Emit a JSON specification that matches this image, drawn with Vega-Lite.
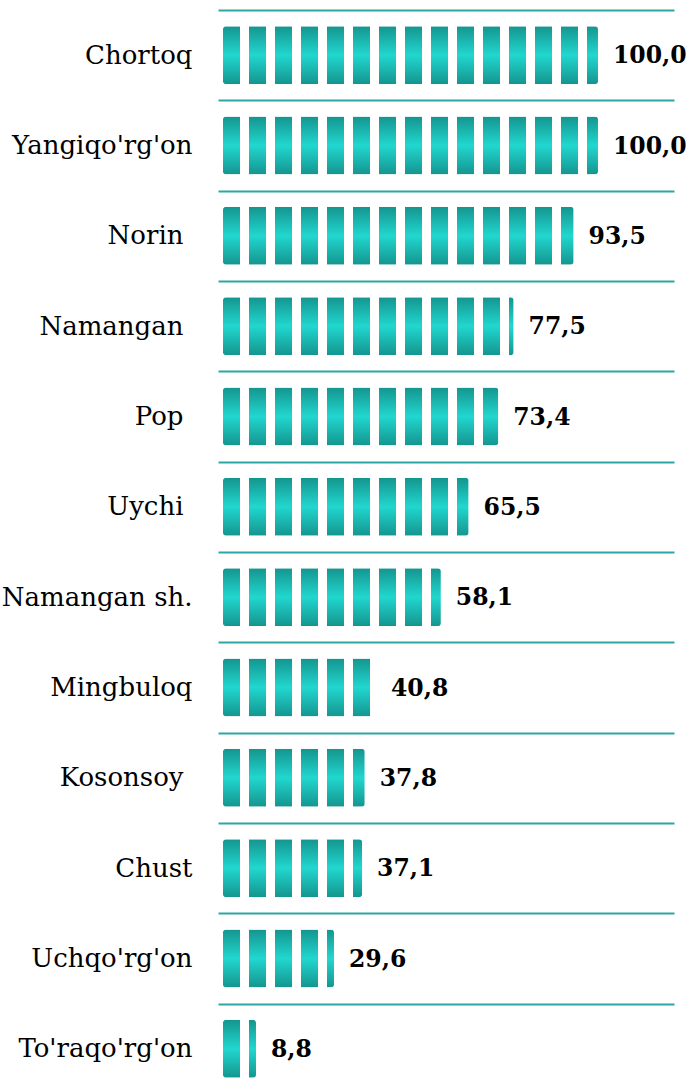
{
  "$schema": "https://vega.github.io/schema/vega-lite/v6.json",
  "autosize": "none",
  "width": 456,
  "height": 1084,
  "padding": {"left": 218, "top": 10, "right": 15, "bottom": 0},
  "background": "white",
  "config": {
    "view": {"stroke": null},
    "locale": {"number": {"decimal": ",", "thousands": ".", "grouping": [3], "currency": ["", ""]}}
  },
  "data": {
    "values": [
      {"district": "Chortoq", "value": 100.0},
      {"district": "Yangiqo'rg'on", "value": 100.0},
      {"district": "Norin", "value": 93.5},
      {"district": "Namangan", "value": 77.5},
      {"district": "Pop", "value": 73.4},
      {"district": "Uychi", "value": 65.5},
      {"district": "Namangan sh.", "value": 58.1},
      {"district": "Mingbuloq", "value": 40.8},
      {"district": "Kosonsoy", "value": 37.8},
      {"district": "Chust", "value": 37.1},
      {"district": "Uchqo'rg'on", "value": 29.6},
      {"district": "To'raqo'rg'on", "value": 8.8}
    ]
  },
  "transform": [{"calculate": "0", "as": "baseline"}],
  "encoding": {
    "y": {
      "field": "district",
      "type": "nominal",
      "sort": null,
      "scale": {"paddingInner": 0, "paddingOuter": 0},
      "axis": {
        "title": null,
        "ticks": false,
        "domain": false,
        "grid": true,
        "tickBand": "extent",
        "gridColor": "#2aa7a2",
        "gridWidth": 2,
        "labelFont": "DejaVu Serif",
        "labelFontSize": 26,
        "labelColor": "#000000",
        "labelPadding": {
          "condition": {"test": "indexof(['Norin','Namangan','Pop','Uychi','Kosonsoy'], datum.value) >= 0", "value": 35},
          "value": 26
        },
        "labelLimit": 0
      }
    }
  },
  "layer": [
    {
      "mark": {
        "type": "bar",
        "size": 58,
        "cornerRadius": 3,
        "color": {
          "gradient": "linear",
          "x1": 0, "y1": 0, "x2": 0, "y2": 1,
          "stops": [
            {"offset": 0, "color": "#14958f"},
            {"offset": 0.5, "color": "#21d7cf"},
            {"offset": 1, "color": "#14958f"}
          ]
        }
      },
      "encoding": {
        "x": {
          "field": "value",
          "type": "quantitative",
          "scale": {"domain": [-1.333, 120.27], "nice": false, "zero": false},
          "axis": null
        }
      }
    },
    {
      "mark": {
        "type": "rule",
        "color": "#ffffff",
        "strokeWidth": 62,
        "strokeDash": [9, 17],
        "strokeDashOffset": 9,
        "strokeCap": "butt"
      },
      "encoding": {
        "x": {"field": "baseline", "type": "quantitative"},
        "x2": {"field": "value"}
      }
    },
    {
      "mark": {
        "type": "text",
        "align": "left",
        "baseline": "middle",
        "dx": 15,
        "dy": 1,
        "font": "DejaVu Serif",
        "fontWeight": "bold",
        "fontSize": 23.5,
        "color": "#000000"
      },
      "encoding": {
        "x": {"field": "value", "type": "quantitative"},
        "text": {"field": "value", "type": "quantitative", "format": ".1f"}
      }
    }
  ]
}
